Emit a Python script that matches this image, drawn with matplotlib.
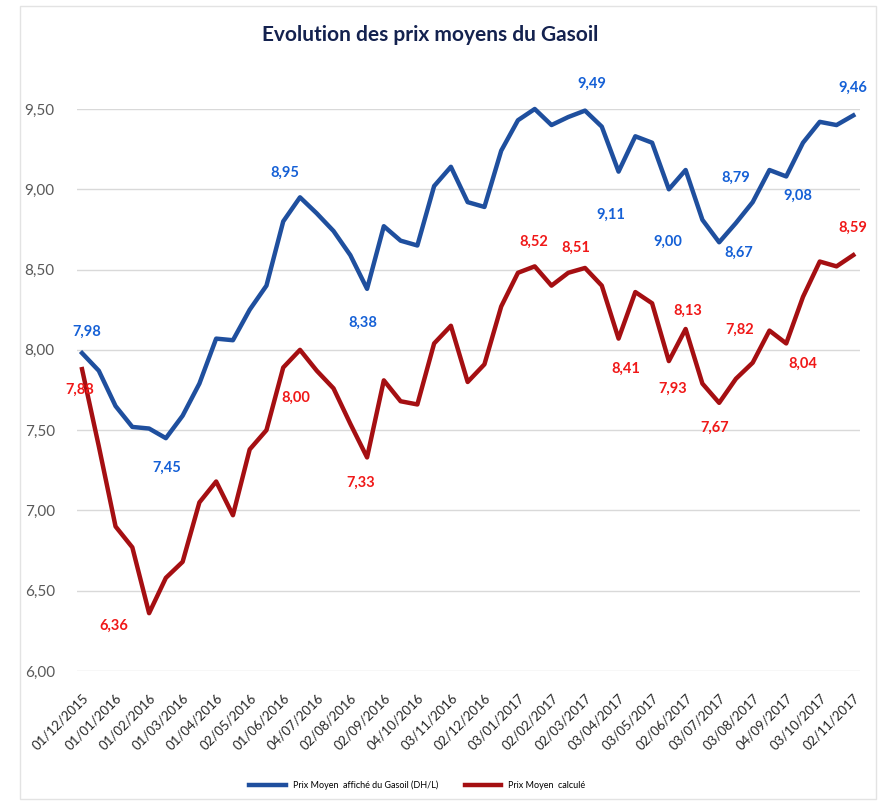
import matplotlib
matplotlib.use("Agg")
import matplotlib.pyplot as plt
import matplotlib.patches as mpatches
import numpy as np

plt.rcParams["font.family"] = ["Lato", "DejaVu Sans"]

# ── Data ─────────────────────────────────────────────────────────────────────
tick_labels = [
    "01/12/2015", "01/01/2016", "01/02/2016", "01/03/2016", "01/04/2016",
    "02/05/2016", "01/06/2016", "04/07/2016", "02/08/2016", "02/09/2016",
    "04/10/2016", "03/11/2016", "02/12/2016", "03/01/2017", "02/02/2017",
    "02/03/2017", "03/04/2017", "03/05/2017", "02/06/2017", "03/07/2017",
    "03/08/2017", "04/09/2017", "03/10/2017", "02/11/2017",
]

prix_affiche = [
    7.98, 7.87, 7.65, 7.52, 7.51, 7.45, 7.59, 7.79, 8.07, 8.06,
    8.25, 8.40, 8.80, 8.95, 8.85, 8.74, 8.59, 8.38, 8.77, 8.68,
    8.65, 9.02, 9.14, 8.92, 8.89, 9.24, 9.43, 9.50, 9.40, 9.45,
    9.49, 9.39, 9.11, 9.33, 9.29, 9.00, 9.12, 8.81, 8.67, 8.79,
    8.92, 9.12, 9.08, 9.29, 9.42, 9.40, 9.46,
]

prix_calcule = [
    7.88, 7.40, 6.90, 6.77, 6.36, 6.58, 6.68, 7.05, 7.18, 6.97,
    7.38, 7.50, 7.89, 8.00, 7.87, 7.76, 7.54, 7.33, 7.81, 7.68,
    7.66, 8.04, 8.15, 7.80, 7.91, 8.27, 8.48, 8.52, 8.40, 8.48,
    8.51, 8.40, 8.07, 8.36, 8.29, 7.93, 8.13, 7.79, 7.67, 7.82,
    7.92, 8.12, 8.04, 8.33, 8.55, 8.52, 8.59,
]

# labelled points (index, text)
lab_aff_idx = [0, 5, 13, 17, 30, 32, 35, 38, 39, 42, 46]
lab_aff_txt = ["7,98", "7,45", "8,95", "8,38", "9,49", "9,11", "9,00",
               "8,67", "8,79", "9,08", "9,46"]
lab_cal_idx = [0, 4, 13, 17, 27, 30, 32, 35, 36, 38, 39, 42, 46]
lab_cal_txt = ["7,88", "6,36", "8,00", "7,33", "8,52", "8,51", "8,41",
               "7,93", "8,13", "7,67", "7,82", "8,04", "8,59"]

# label offsets in pixels (dx, dy)
off_aff = [(5, 21), (1, -30), (-15, 25), (-4, -34), (7, 27), (-8, -43),
           (-1, -53), (20, -11), (0, 45), (12, -19), (0, 28)]
off_cal = [(-2, -21), (-35, -13), (-4, -48), (-6, -25), (-1, 25), (-9, 20),
           (7, -30), (4, -28), (2, 18), (-4, -25), (4, 49), (17, -20), (0, 27)]

# ── Palette ──────────────────────────────────────────────────────────────────
C_BLUE = "#1f4f9e"
C_RED = "#a50f12"
C_BLUE_LAB = "#1560d6"
C_RED_LAB = "#f01818"
C_GRID = "#d9d9d9"

x = np.arange(len(prix_affiche))

fig = plt.figure(figsize=(8.79, 8.01), dpi=100)
ax = fig.add_axes([77 / 879, 1 - 671 / 801, (860 - 77) / 879, (671 - 109) / 801])

# chart frame
fig.patches.append(mpatches.Rectangle((20 / 879, 0.002), (876 - 20) / 879, 0.99,
                                      transform=fig.transFigure, fill=False,
                                      edgecolor="#e3e3e3", lw=1))

ax.plot(x, prix_affiche, color=C_BLUE, lw=3.2, solid_joinstyle="round",
        clip_on=False, label="Prix Moyen  affiché du Gasoil (DH/L)")
ax.plot(x, prix_calcule, color=C_RED, lw=3.2, solid_joinstyle="round",
        clip_on=False, label="Prix Moyen  calculé")

for i, t, (dx, dy) in zip(lab_aff_idx, lab_aff_txt, off_aff):
    ax.annotate(t, (x[i], prix_affiche[i]), xytext=(dx, dy), textcoords="offset pixels",
                ha="center", va="center", color=C_BLUE_LAB, fontsize=10.5,
                fontweight="bold", annotation_clip=False)
for i, t, (dx, dy) in zip(lab_cal_idx, lab_cal_txt, off_cal):
    ax.annotate(t, (x[i], prix_calcule[i]), xytext=(dx, dy), textcoords="offset pixels",
                ha="center", va="center", color=C_RED_LAB, fontsize=10.5,
                fontweight="bold", annotation_clip=False)

ax.set_xlim(-0.3, len(x) - 1 + 0.4)
ax.set_ylim(6.0, 9.5)
yt = np.arange(6.0, 9.51, 0.5)
ax.set_yticks(yt)
ax.set_yticklabels([f"{v:.2f}".replace(".", ",") for v in yt], color="#595959", fontsize=11)
ax.set_xticks(x[::2])
ax.set_xticklabels(tick_labels, rotation=45, ha="right", rotation_mode="anchor",
                   fontsize=9.5, color="#262626")
ax.tick_params(axis="x", length=0, pad=15)
ax.tick_params(axis="y", length=0, pad=16)
ax.grid(axis="y", color=C_GRID, lw=1)
ax.set_axisbelow(True)
for s in ax.spines.values():
    s.set_visible(False)

fig.text(430 / 879, 1 - 35 / 801, "Evolution des prix moyens du Gasoil",
         ha="center", va="center", fontsize=15, fontweight="bold", color="#14224f")

fig.legend(loc="center", bbox_to_anchor=(0.475, 1 - 785 / 801), ncol=2, frameon=False,
           fontsize=6.5, handlelength=4, columnspacing=3)

fig.savefig("out.png", dpi=100)
